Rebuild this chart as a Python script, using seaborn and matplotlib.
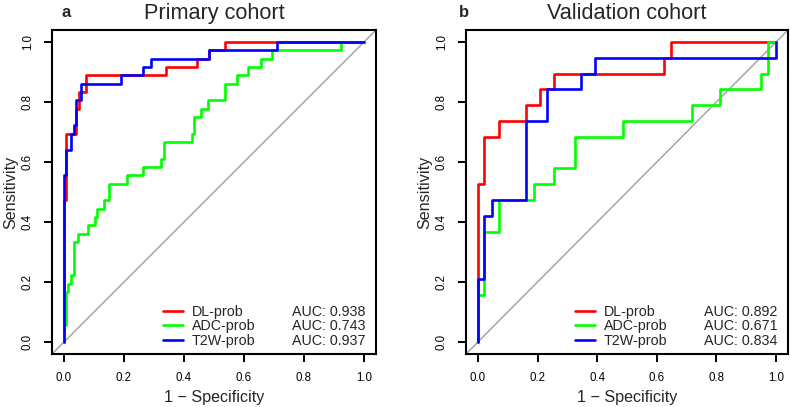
import numpy as np
import pandas as pd
import matplotlib
matplotlib.use("Agg")
import matplotlib.pyplot as plt
from matplotlib.lines import Line2D
import seaborn as sns

# ROC vertices, drawn as "steps-pre": y[i] holds on (x[i-1], x[i]]
MODELS = ["DL-prob", "ADC-prob", "T2W-prob"]
COLORS = {"DL-prob": "#FF0000", "ADC-prob": "#00FF00", "T2W-prob": "#0000FF"}

# Primary cohort
pri_dl_fpr = [0, 0.008, 0.041, 0.050, 0.073, 0.339, 0.444, 0.482, 0.537, 1.0]
pri_dl_tpr = [0, 0.472, 0.694, 0.778, 0.833, 0.889, 0.917, 0.944, 0.972, 1.0]
pri_adc_fpr = [0, 0.008, 0.015, 0.023, 0.032, 0.048, 0.079, 0.104, 0.111, 0.133,
               0.151, 0.209, 0.262, 0.324, 0.332, 0.427, 0.435, 0.457, 0.481,
               0.537, 0.578, 0.615, 0.656, 0.694, 0.924, 1.0]
pri_adc_tpr = [0, 0.056, 0.167, 0.194, 0.222, 0.333, 0.361, 0.389, 0.417, 0.444,
               0.472, 0.528, 0.556, 0.583, 0.611, 0.667, 0.694, 0.750, 0.778,
               0.806, 0.861, 0.889, 0.917, 0.944, 0.972, 1.0]
pri_t2w_fpr = [0, 0.008, 0.025, 0.035, 0.041, 0.056, 0.190, 0.262, 0.291, 0.482, 0.711, 1.0]
pri_t2w_tpr = [0, 0.556, 0.639, 0.694, 0.722, 0.806, 0.861, 0.889, 0.917, 0.944, 0.972, 1.0]
pri_auc = [0.938, 0.743, 0.937]

# Validation cohort
val_dl_fpr = [0, 0.022, 0.071, 0.162, 0.209, 0.256, 0.625, 0.649, 1.0]
val_dl_tpr = [0, 0.526, 0.684, 0.737, 0.789, 0.842, 0.895, 0.947, 1.0]
val_adc_fpr = [0, 0.022, 0.071, 0.188, 0.256, 0.325, 0.486, 0.717, 0.811, 0.950, 0.973, 1.0]
val_adc_tpr = [0, 0.158, 0.368, 0.474, 0.526, 0.579, 0.684, 0.737, 0.789, 0.842, 0.895, 1.0]
val_t2w_fpr = [0, 0.022, 0.046, 0.162, 0.231, 0.347, 0.392, 1.0, 1.0]
val_t2w_tpr = [0, 0.211, 0.421, 0.474, 0.737, 0.842, 0.895, 0.947, 1.0]
val_auc = [0.892, 0.671, 0.834]


def to_frame(fprs, tprs):
    parts = []
    for name, f, t in zip(MODELS, fprs, tprs):
        parts.append(pd.DataFrame({"fpr": f, "tpr": t, "model": name}))
    return pd.concat(parts, ignore_index=True)


primary = to_frame([pri_dl_fpr, pri_adc_fpr, pri_t2w_fpr],
                   [pri_dl_tpr, pri_adc_tpr, pri_t2w_tpr])
validation = to_frame([val_dl_fpr, val_adc_fpr, val_t2w_fpr],
                      [val_dl_tpr, val_adc_tpr, val_t2w_tpr])

sns.set_theme(style="white")
plt.rcParams["font.family"] = ["Liberation Sans", "DejaVu Sans"]

fig = plt.figure(figsize=(7.91, 4.07), dpi=100)
W, H = 791, 407
ax1 = fig.add_axes([52 / W, (H - 354) / H, 324 / W, 324 / H])
ax2 = fig.add_axes([466 / W, (H - 354) / H, 322 / W, 324 / H])


def draw_panel(ax, df, aucs, title, letter, letter_x):
    ax.axline((0, 0), (1, 1), color="#A6A6A6", linewidth=1.1, zorder=1)
    sns.lineplot(data=df, x="fpr", y="tpr", hue="model", hue_order=MODELS,
                 palette=COLORS, estimator=None, sort=False,
                 drawstyle="steps-pre", linewidth=1.9, legend=False, ax=ax, zorder=2)
    ax.set_xlim(-0.04, 1.04)
    ax.set_ylim(-0.04, 1.04)
    ticks = [0.0, 0.2, 0.4, 0.6, 0.8, 1.0]
    ax.set_xticks(ticks)
    ax.set_yticks(ticks)
    ax.set_xticklabels([f"{t:.1f}" for t in ticks])
    ax.set_yticklabels([f"{t:.1f}" for t in ticks], rotation=90, va="center")
    ax.tick_params(direction="out", length=5.5, width=1.4, labelsize=8.3,
                   colors="black", pad=7.5, bottom=True, left=True)
    for sp in ax.spines.values():
        sp.set_color("black")
        sp.set_linewidth(1.5)
    ax.set_xlabel("1 \u2212 Specificity", fontsize=11.6, labelpad=4)
    ax.set_ylabel("Sensitivity", fontsize=11.6, labelpad=3)
    ax.text(0.5, 1.035, title, transform=ax.transAxes, ha="center",
            va="baseline", fontsize=15.6)
    ax.text(letter_x, 1.04, letter, transform=ax.transAxes, ha="left",
            va="baseline", fontsize=12, fontweight="bold")

    handles = [Line2D([], [], color=COLORS[m], linewidth=1.9) for m in MODELS]
    handles += [Line2D([], [], color="none") for _ in MODELS]
    labels = MODELS + [f"AUC: {a:.3f}" for a in aucs]
    ax.legend(handles, labels, ncol=2, loc="lower right",
              bbox_to_anchor=(1.006, -0.02), bbox_transform=ax.transData,
              frameon=False, fontsize=10.3, handlelength=1.36,
              handletextpad=0.63, columnspacing=0.58, labelspacing=0.05,
              borderpad=0, borderaxespad=0)


draw_panel(ax1, primary, pri_auc, "Primary cohort", "a", 0.03)
draw_panel(ax2, validation, val_auc, "Validation cohort", "b", -0.022)

fig.savefig("out.png", dpi=100)
